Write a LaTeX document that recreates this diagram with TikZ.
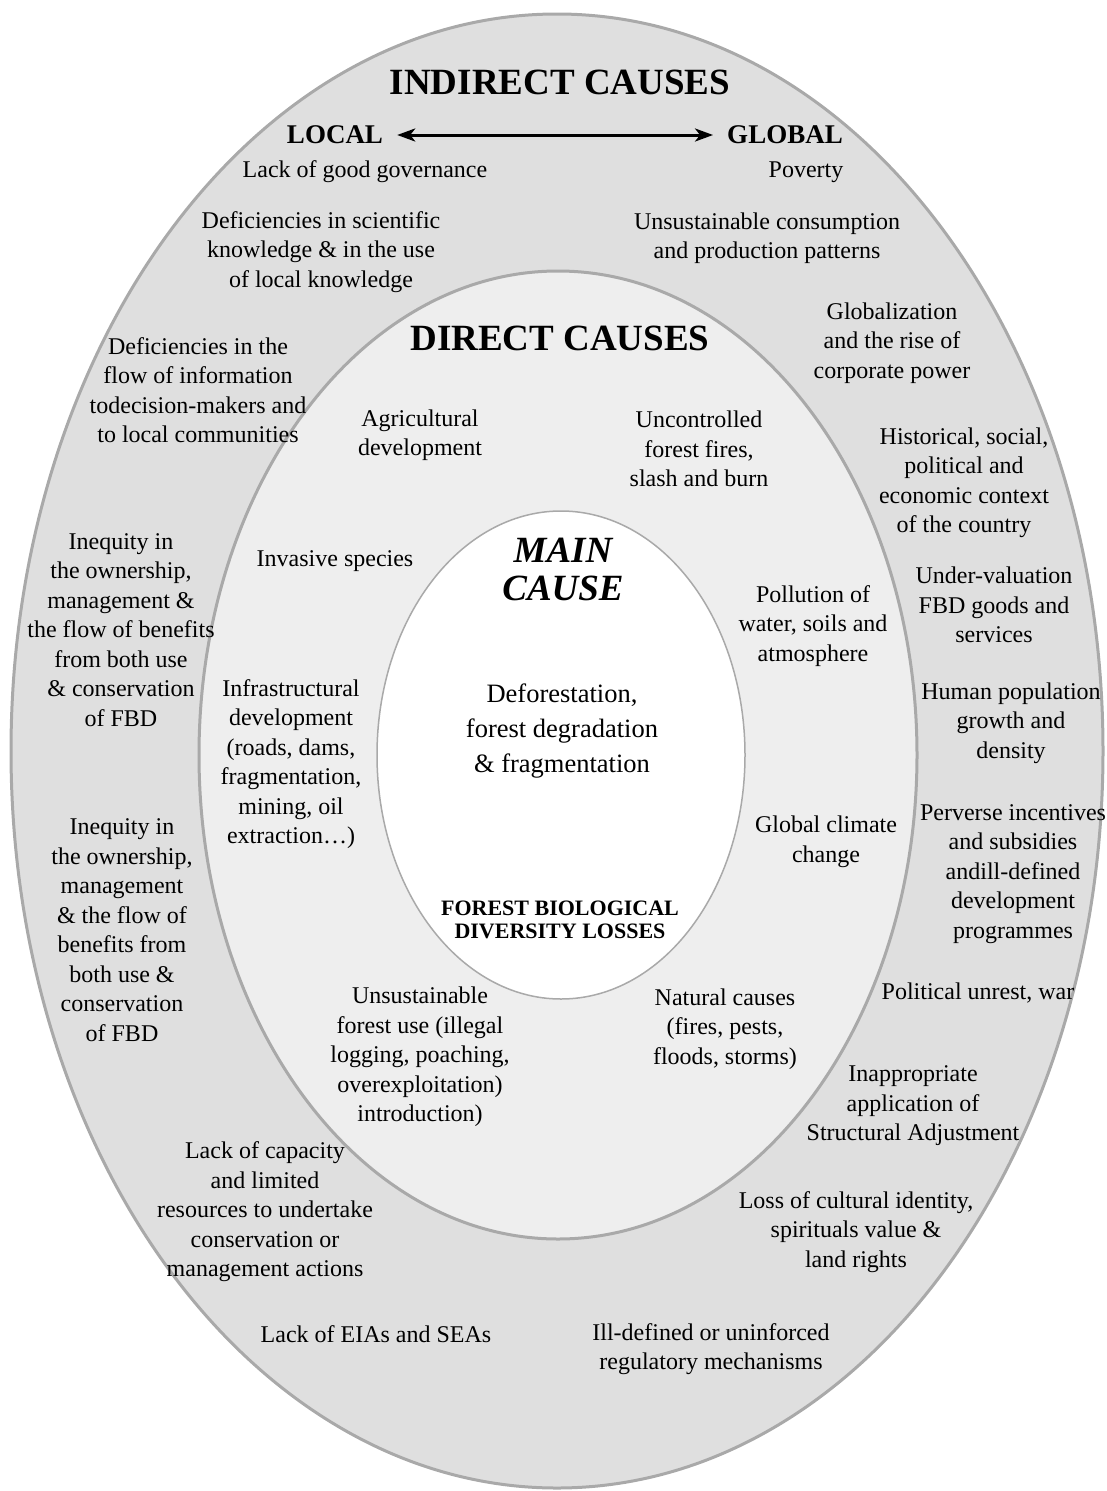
\documentclass[tikz,border=0pt]{standalone}
\usepackage{fontspec}
\setmainfont{Liberation Serif}
\usetikzlibrary{arrows.meta}
\definecolor{ringouter}{HTML}{DFDFDF}
\definecolor{ringmid}{HTML}{EEEEEE}
\definecolor{ringline}{HTML}{A9A9A9}
\begin{document}
\begin{tikzpicture}[x=1pt,y=-1pt,
  cause/.style={align=center,inner sep=0pt,yshift=-2pt,font=\fontsize{24}{29.5}\selectfont},
  heading/.style={inner sep=0pt,font=\fontsize{37}{40}\selectfont\bfseries},
  scalelabel/.style={inner xsep=14pt,inner ysep=0pt,font=\fontsize{27}{30}\selectfont\bfseries}]
  \useasboundingbox (0,0) rectangle (1106,1491);
  % rings
  \draw[ringline,line width=3pt,fill=ringouter] (557,751) ellipse [x radius=546pt,y radius=737pt];
  \draw[ringline,line width=3pt,fill=ringmid] (558,755) ellipse [x radius=359pt,y radius=484pt];
  \draw[ringline,line width=1.5pt,fill=white] (561,755) ellipse [x radius=184pt,y radius=244pt];

  % indirect causes
  \node[heading] (indirect) at (560,82) {INDIRECT CAUSES};
  \node[scalelabel] (local) at (335,135) {LOCAL};
  \node[scalelabel] (global) at (785,135) {GLOBAL};
  \draw[{Stealth[length=18pt,width=13pt,inset=5pt]}-{Stealth[length=18pt,width=13pt,inset=5pt]},line width=3pt] (local) -- (global);
  \node[cause] (governance) at (365,170) {Lack of good governance};
  \node[cause] (poverty) at (806,170) {Poverty};
  \node[cause] (knowledge) at (321,250) {Deficiencies in scientific\\knowledge \& in the use\\of local knowledge};
  \node[cause] (consumption) at (767,236) {Unsustainable consumption\\and production patterns};
  \node[cause] (globalization) at (892,341) {Globalization\\and the rise of\\corporate power};
  \node[cause] (information) at (198,388) {Deficiencies in the\\flow of information\\todecision-makers and\\to local communities};
  \node[cause] (history) at (964,481) {Historical, social,\\political and\\economic context\\of the country};
  \node[cause] (inequityA) at (121,628) {Inequity in\\the ownership,\\management \&\\the flow of benefits\\from both use\\\& conservation\\of FBD};
  \node[cause] (valuation) at (994,603) {Under-valuation\\FBD goods and\\services};
  \node[cause] (population) at (1011,721) {Human population\\growth and\\density};
  \node[cause] (inequityB) at (122,928) {Inequity in\\the ownership,\\management\\\& the flow of\\benefits from\\both use \&\\conservation\\of FBD};
  \node[cause] (incentives) at (1013,872) {Perverse incentives\\and subsidies\\andill-defined\\development\\programmes};
  \node[cause] (unrest) at (978,991) {Political unrest, war};
  \node[cause] (adjustment) at (913,1104) {Inappropriate\\application of\\Structural Adjustment};
  \node[cause] (capacity) at (265,1210) {Lack of capacity\\and limited\\resources to undertake\\conservation or\\management actions};
  \node[cause] (identity) at (856,1230) {Loss of cultural identity,\\spirituals value \&\\land rights};
  \node[cause] (eias) at (376,1332) {Lack of EIAs and SEAs};
  \node[cause] (regulation) at (711,1347) {Ill-defined or uninforced\\regulatory mechanisms};

  % direct causes
  \node[heading] (direct) at (560,338) {DIRECT CAUSES};
  \node[cause] (agriculture) at (420,433) {Agricultural\\development};
  \node[cause] (fires) at (699,447) {Uncontrolled\\forest fires,\\slash and burn};
  \node[cause] (invasive) at (335,559) {Invasive species};
  \node[cause] (pollution) at (813,624) {Pollution of\\water, soils and\\atmosphere};
  \node[cause] (infrastructure) at (291,762) {Infrastructural\\development\\(roads, dams,\\fragmentation,\\mining, oil\\extraction…)};
  \node[cause] (climate) at (826,840) {Global climate\\change};
  \node[cause] (forestuse) at (420,1055) {Unsustainable\\forest use (illegal\\logging, poaching,\\overexploitation)\\introduction)};
  \node[cause] (natural) at (725,1027) {Natural causes\\(fires, pests,\\floods, storms)};

  % main cause
  \node[align=center,inner sep=0pt,font=\fontsize{37}{38}\selectfont\bfseries\itshape] (main) at (563,569) {MAIN\\CAUSE};
  \node[align=center,inner sep=0pt,font=\fontsize{26.5}{35}\selectfont] (deforestation) at (562,731) {Deforestation,\\forest degradation\\\& fragmentation};
  \node[align=center,inner sep=0pt,font=\fontsize{22}{23}\selectfont\bfseries] (losses) at (560,920) {FOREST BIOLOGICAL\\DIVERSITY LOSSES};
\end{tikzpicture}
\end{document}
